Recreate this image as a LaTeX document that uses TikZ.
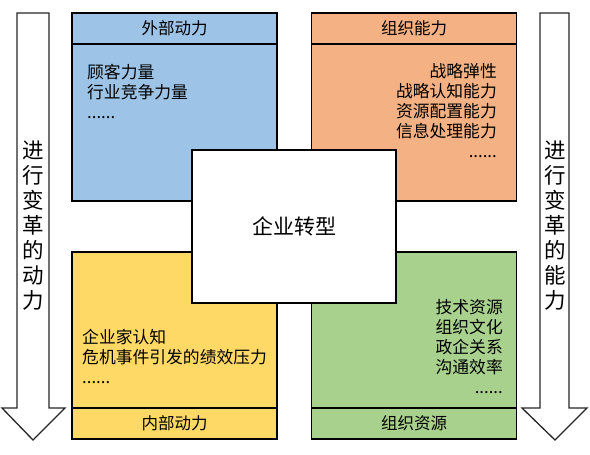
\documentclass[tikz,border=0pt]{standalone}
\usepackage{fontspec}
\setmainfont{Noto Sans CJK SC}
\usetikzlibrary{positioning}
\definecolor{extblue}{RGB}{157,195,230}
\definecolor{orgorange}{RGB}{244,177,131}
\definecolor{intyellow}{RGB}{255,217,102}
\definecolor{resgreen}{RGB}{169,209,142}
\begin{document}
\begin{tikzpicture}[x=1pt,y=-1pt,
  box/.style={draw=black, line width=1.6pt, rectangle, inner sep=0pt},
  head/.style={box, minimum width=205, minimum height=31, font=\fontsize{16.5}{18}\selectfont},
  items/.style={inner sep=0pt, font=\fontsize{16.8}{20}\selectfont},
  bigarrow/.style={draw=black!85, fill=white, line width=1.3pt},
  vtext/.style={inner sep=0pt, align=center, font=\fontsize{21.5}{25}\selectfont}]
\useasboundingbox (0,0) rectangle (590,455);

\draw[bigarrow] (17,13) -- (49,13) -- (49,408) -- (65,408) -- (33,440) -- (2,408) -- (17,408) -- cycle;
\draw[bigarrow] (540,13) -- (569,13) -- (569,408) -- (587,408) -- (555,440) -- (522,408) -- (540,408) -- cycle;
\node[vtext] (leftv) at (33,226) {进\\行\\变\\革\\的\\动\\力};
\node[vtext] (rightv) at (555,226) {进\\行\\变\\革\\的\\能\\力};

\node[box, fill=extblue, minimum width=205, minimum height=188] (ext) at (174.5,107) {};
\node[head, fill=extblue, anchor=north] (exth) at (ext.north) {外部动力};
\node[items, align=left, anchor=north west] (extl) at (87,64) {顾客力量\\行业竞争力量\\......};

\node[box, fill=orgorange, minimum width=205, minimum height=188] (org) at (414,107) {};
\node[head, fill=orgorange, anchor=north] (orgh) at (org.north) {组织能力};
\node[items, align=right, anchor=north east] (orgl) at (497,63) {战略弹性\\战略认知能力\\资源配置能力\\信息处理能力\\......};

\node[box, fill=intyellow, minimum width=205, minimum height=187] (int) at (174.5,345.5) {};
\node[head, fill=intyellow, anchor=south] (inth) at (int.south) {内部动力};
\node[items, align=left, anchor=north west] (intl) at (82,329) {企业家认知\\危机事件引发的绩效压力\\......};

\node[box, fill=resgreen, minimum width=205, minimum height=187] (res) at (414,345.5) {};
\node[head, fill=resgreen, anchor=south] (resh) at (res.south) {组织资源};
\node[items, align=right, anchor=north east] (resl) at (503,299) {技术资源\\组织文化\\政企关系\\沟通效率\\......};

\node[box, fill=white, minimum width=204, minimum height=153, font=\fontsize{21}{24}\selectfont] (core) at (294,226.5) {企业转型};
\end{tikzpicture}
\end{document}
